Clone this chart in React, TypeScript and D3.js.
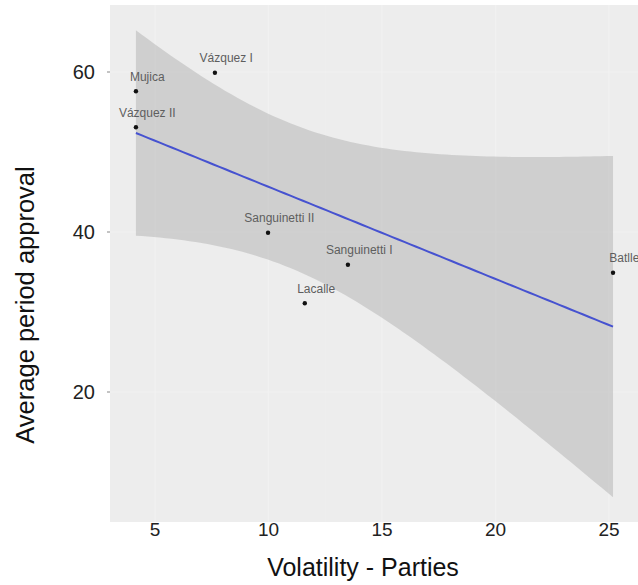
import React from "react";
import * as d3 from "d3";

// Presidential terms: party-system volatility vs. average approval over the period
const presidents = ["Mujica", "Vázquez II", "Vázquez I", "Sanguinetti II", "Sanguinetti I", "Lacalle", "Batlle"];
const volatility = [4.16, 4.16, 7.64, 9.98, 13.5, 11.6, 25.18];
const approval = [57.6, 53.1, 59.9, 39.9, 35.9, 31.1, 34.9];

const xTicks = [5, 10, 15, 20, 25];
const yTicks = [20, 40, 60];
const xMinor = [7.5, 12.5, 17.5, 22.5];
const yMinor = [10, 30, 50];

const W = 638;
const H = 585;
const panel = { left: 110, right: 638, top: 5, bottom: 522 };

// Student t quantile for a 95% interval with n - 2 = 5 degrees of freedom
const T_975_DF5 = 2.570582;

function linearFit(xs: number[], ys: number[]) {
  const n = xs.length;
  const mx = d3.mean(xs)!;
  const my = d3.mean(ys)!;
  let sxx = 0;
  let sxy = 0;
  xs.forEach((x, i) => {
    sxx += (x - mx) ** 2;
    sxy += (x - mx) * (ys[i] - my);
  });
  const slope = sxy / sxx;
  const intercept = my - slope * mx;
  const rss = d3.sum(xs, (x, i) => (ys[i] - (intercept + slope * x)) ** 2);
  const s = Math.sqrt(rss / (n - 2));
  const predict = (x: number) => intercept + slope * x;
  const halfWidth = (x: number) => T_975_DF5 * s * Math.sqrt(1 / n + (x - mx) ** 2 / sxx);
  return { predict, halfWidth };
}

export default function App() {
  const x = d3.scaleLinear().domain([3.018, 26.28]).range([panel.left, panel.right]);
  const y = d3.scaleLinear().domain([3.75, 68.375]).range([panel.bottom, panel.top]);

  const fit = linearFit(volatility, approval);
  const [x0, x1] = d3.extent(volatility) as [number, number];
  const grid = d3.range(0, 81).map((i) => x0 + ((x1 - x0) * i) / 80);
  const bandData = grid.map((v) => ({ v, fit: fit.predict(v), hw: fit.halfWidth(v) }));

  const ribbon = d3
    .area<{ v: number; fit: number; hw: number }>()
    .x((d) => x(d.v))
    .y0((d) => y(d.fit - d.hw))
    .y1((d) => y(d.fit + d.hw));
  const line = d3
    .line<{ v: number; fit: number; hw: number }>()
    .x((d) => x(d.v))
    .y((d) => y(d.fit));

  const font = "'Liberation Sans', Arial, Helvetica, sans-serif";

  return (
    <svg
      width={W}
      height={H}
      style={{ position: "absolute", left: 0, top: 0, background: "#ffffff" }}
      fontFamily={font}
    >
      <defs>
        <clipPath id="panel-clip">
          <rect x={panel.left} y={panel.top} width={panel.right - panel.left} height={panel.bottom - panel.top} />
        </clipPath>
      </defs>

      {/* panel background */}
      <rect
        x={panel.left}
        y={panel.top}
        width={panel.right - panel.left}
        height={panel.bottom - panel.top}
        fill="#ededed"
      />

      {/* grid lines */}
      <g clipPath="url(#panel-clip)">
        {xMinor.map((t) => (
          <line key={"xm" + t} x1={x(t)} x2={x(t)} y1={panel.top} y2={panel.bottom} stroke="#efefef" strokeWidth={0.6} />
        ))}
        {yMinor.map((t) => (
          <line key={"ym" + t} x1={panel.left} x2={panel.right} y1={y(t)} y2={y(t)} stroke="#efefef" strokeWidth={0.6} />
        ))}
        {xTicks.map((t) => (
          <line key={"xg" + t} x1={x(t)} x2={x(t)} y1={panel.top} y2={panel.bottom} stroke="#f1f1f1" strokeWidth={1.2} />
        ))}
        {yTicks.map((t) => (
          <line key={"yg" + t} x1={panel.left} x2={panel.right} y1={y(t)} y2={y(t)} stroke="#f1f1f1" strokeWidth={1.2} />
        ))}

        {/* confidence band and fitted line */}
        <path d={ribbon(bandData) ?? ""} fill="#a3a3a3" fillOpacity={0.4} />
        <path d={line(bandData) ?? ""} fill="none" stroke="#4652d0" strokeWidth={2} />

        {/* observations */}
        {presidents.map((p, i) => (
          <circle key={p} cx={x(volatility[i])} cy={y(approval[i])} r={2.2} fill="#111111" />
        ))}
      </g>

      {/* point labels */}
      {presidents.map((p, i) => (
        <text
          key={"lbl" + p}
          x={x(volatility[i] + 0.5)}
          y={y(approval[i]) - 10.5}
          textAnchor="middle"
          fontSize={12}
          fill="#5e5e5e"
        >
          {p}
        </text>
      ))}

      {/* y axis */}
      {yTicks.map((t) => (
        <g key={"yt" + t}>
          <line x1={panel.left - 3} x2={panel.left} y1={y(t)} y2={y(t)} stroke="#888888" strokeWidth={1} />
          <text x={95} y={y(t)} dy="0.35em" textAnchor="end" fontSize={20} fill="#222222">
            {t}
          </text>
        </g>
      ))}

      {/* x axis */}
      {xTicks.map((t) => (
        <text key={"xt" + t} x={x(t)} y={536} textAnchor="middle" fontSize={19} fill="#222222">
          {t}
        </text>
      ))}

      {/* axis titles */}
      <text x={363} y={576} textAnchor="middle" fontSize={25} fill="#111111">
        Volatility - Parties
      </text>
      <text
        transform={`translate(34, 305) rotate(-90)`}
        textAnchor="middle"
        fontSize={25.5}
        fill="#111111"
      >
        Average period approval
      </text>
    </svg>
  );
}
